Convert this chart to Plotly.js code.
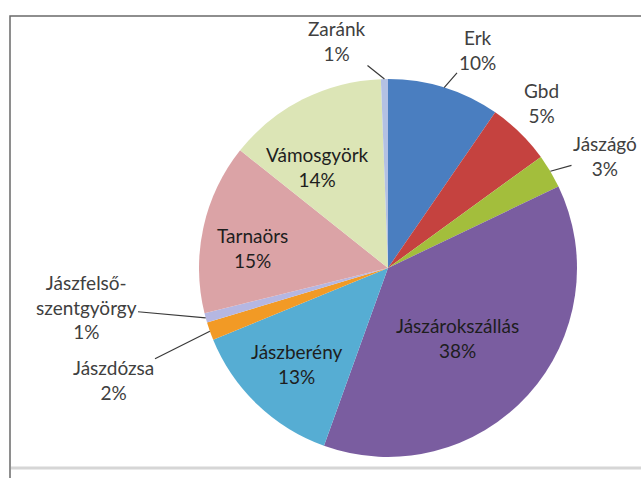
<!DOCTYPE html>
<html>
<head>
<meta charset="utf-8">
<script src="https://cdn.plot.ly/plotly-3.0.1.min.js"></script>
<style>
  html, body { margin: 0; padding: 0; background: #ffffff; }
  #chart { width: 641px; height: 478px; }
</style>
</head>
<body>
<div id="chart"></div>
<script>
// ---- data ----
const towns = ["Erk", "Gbd", "Jászágó", "Jászárokszállás", "Jászberény", "Jászdózsa",
               "Jászfelső-szentgyörgy", "Tarnaörs", "Vámosgyörk", "Zaránk"];
const shares = [9.6, 5.4, 2.9, 37.6, 13.3, 1.55, 0.8, 14.55, 13.7, 0.6];
const sliceColors = ["#4A7EC0", "#C5423F", "#A3BE3C", "#7A5DA0", "#56ADD3", "#F29A25",
                     "#B5B7E2", "#DBA3A6", "#DCE5B6", "#B3C1E3"];

// ---- layout constants (pixels) ----
const W = 641, H = 478;
const cx = 388, cy = 268, R = 189;
// label centre positions and whether the label is outside (with leader line)
const labelPos = {
  "Erk": {x: 477, y: 50, out: true, line: true},
  "Gbd": {x: 541, y: 103, out: true, line: false},
  "Jászágó": {x: 605, y: 156, out: true, line: true},
  "Jászárokszállás": {x: 457, y: 338, out: false},
  "Jászberény": {x: 297, y: 364, out: false},
  "Jászdózsa": {x: 113, y: 380, out: true, line: true},
  "Jászfelső-szentgyörgy": {x: 86, y: 307, out: true, line: true},
  "Tarnaörs": {x: 252, y: 248, out: false},
  "Vámosgyörk": {x: 317, y: 167, out: false},
  "Zaránk": {x: 337, y: 41, out: true, line: true}
};

const px = v => v / W;
const py = v => 1 - v / H;

const total = shares.reduce((a, b) => a + b, 0);
const annotations = [];
let cum = 0;
towns.forEach((t, i) => {
  const mid = (cum + shares[i] / 2) / total;
  cum += shares[i];
  const ang = mid * 2 * Math.PI;
  const tipX = cx + R * Math.sin(ang);
  const tipY = cy - R * Math.cos(ang);
  const pct = Math.round(shares[i] / total * 100) + "%";
  const lbl = t.replace("-", "-<br>");
  const p = labelPos[t];
  const txt = lbl + "<br>" + pct;
  if (p.out) {
    annotations.push({
      xref: "paper", yref: "paper",
      x: px(tipX), y: py(tipY),
      ax: p.x - tipX, ay: p.y - tipY,
      text: txt, showarrow: true,
      arrowhead: 0, arrowwidth: 1.2, standoff: 0,
      arrowcolor: p.line ? "#3a3a3a" : "rgba(0,0,0,0)",
      font: {family: "Lato, 'Open Sans', sans-serif", size: 19, color: "#404040"},
      align: "center"
    });
  } else {
    annotations.push({
      xref: "paper", yref: "paper",
      x: px(p.x), y: py(p.y), xanchor: "center", yanchor: "middle",
      text: txt, showarrow: false,
      font: {family: "Lato, 'Open Sans', sans-serif", size: 19, color: "#1e1e1e"},
      align: "center"
    });
  }
});

const trace = {
  type: "pie",
  labels: towns,
  values: shares,
  sort: false,
  direction: "clockwise",
  rotation: 0,
  textinfo: "none",
  hoverinfo: "skip",
  marker: {colors: sliceColors, line: {width: 0}},
  domain: {x: [px(cx - R), px(cx + R)], y: [py(cy + R), py(cy - R)]},
  showlegend: false
};

const layout = {
  width: W, height: H,
  margin: {l: 0, r: 0, t: 0, b: 0},
  paper_bgcolor: "#ffffff",
  showlegend: false,
  annotations: annotations,
  shapes: [
    {type: "rect", xref: "paper", yref: "paper", x0: px(10), x1: 1.05, y0: -0.05, y1: py(16),
     line: {color: "#6a6a6a", width: 1.5}, fillcolor: "rgba(0,0,0,0)", layer: "below"},
    {type: "line", xref: "paper", yref: "paper", x0: px(11), x1: 1.05, y0: py(468), y1: py(468),
     line: {color: "#d6d6d6", width: 3}, layer: "below"}
  ]
};

Plotly.newPlot("chart", [trace], layout, {displayModeBar: false, staticPlot: true});
</script>
</body>
</html>
